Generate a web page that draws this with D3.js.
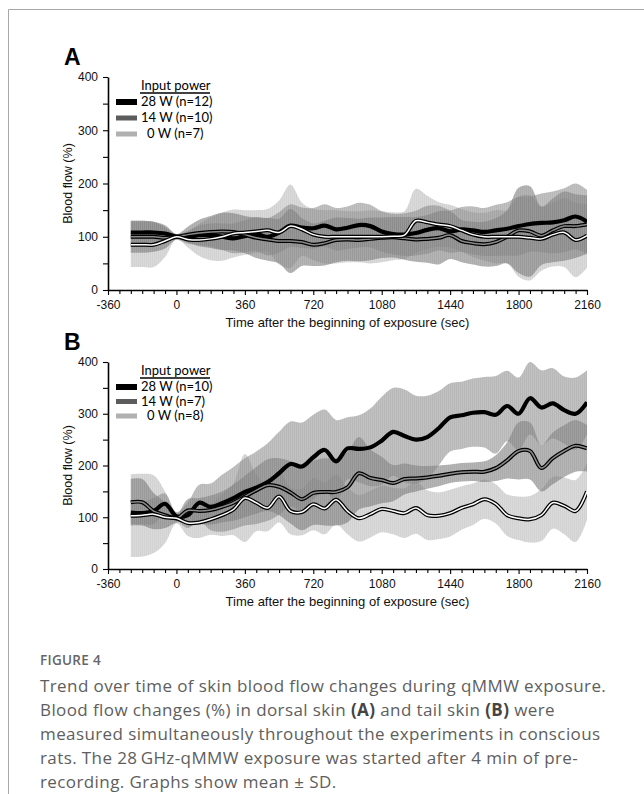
<!DOCTYPE html>
<html>
<head>
<meta charset="utf-8">
<script src="https://cdn.jsdelivr.net/npm/d3@7"></script>
<style>
  body { margin: 0; background: #fff; }
  svg { display: block; }
  text { white-space: pre; }
</style>
</head>
<body>
<svg id="fig"></svg>
<script>
// time points (sec after the beginning of exposure)
const times = [-240, -180, -120, -60, 0, 60, 120, 180, 240, 300, 360, 420, 480, 540, 600, 660,
  720, 780, 840, 900, 960, 1020, 1080, 1140, 1200, 1260, 1320, 1380, 1440, 1500, 1560, 1620,
  1680, 1740, 1800, 1860, 1920, 1980, 2040, 2100, 2160];

const xTicks = [-360, 0, 360, 720, 1080, 1440, 1800, 2160];
const yTicks = [0, 100, 200, 300, 400];
const yMinor = [50, 150, 250, 350];

const legendTitle = 'Input power';
const labelsA = ['28 W (n=12)', '14 W (n=10)', '0 W (n=7)'];
const labelsB = ['28 W (n=10)', '14 W (n=7)', '0 W (n=8)'];

// Panel A - dorsal skin
const a28Mean = [108, 108, 108, 106, 100, 99, 103, 103, 100, 97, 101, 105, 100, 108, 121, 117,
  116, 121, 114, 117, 122, 120, 110, 105, 104, 107, 113, 116, 110, 114, 112, 109,
  112, 115, 120, 124, 126, 127, 131, 138, 128];
const a14Mean = [100, 100, 100, 98, 100, 104, 107, 109, 110, 109, 104, 98, 95, 92, 92, 90,
  85, 88, 94, 95, 94, 96, 98, 99, 97, 95, 96, 98, 103, 92, 88, 86,
  90, 100, 112, 110, 102, 112, 120, 120, 123];
const a0Mean = [85, 85, 85, 92, 100, 95, 94, 96, 100, 106, 108, 110, 112, 108, 120, 114,
  104, 100, 100, 100, 100, 100, 100, 101, 103, 130, 127, 123, 120, 112, 104, 100,
  100, 100, 100, 98, 96, 104, 108, 94, 102];
const a28Sd = [22, 22, 20, 15, 5, 12, 18, 22, 25, 28, 30, 32, 35, 38, 40, 38,
  38, 40, 40, 40, 42, 40, 38, 38, 40, 42, 45, 42, 40, 42, 45, 45,
  48, 50, 55, 52, 55, 58, 60, 62, 60];
const a14Sd = [30, 30, 28, 20, 5, 15, 25, 30, 35, 35, 35, 38, 40, 42, 60, 45,
  40, 42, 42, 40, 40, 40, 38, 38, 40, 42, 45, 50, 45, 40, 40, 42,
  45, 50, 80, 85, 55, 60, 65, 60, 55];
const a0Sd = [42, 42, 42, 30, 5, 15, 30, 40, 45, 45, 42, 40, 40, 60, 78, 50,
  48, 50, 50, 48, 48, 50, 48, 45, 45, 60, 50, 42, 40, 40, 42, 45,
  50, 50, 75, 80, 60, 60, 65, 70, 60];

// Panel B - tail skin
const b28Mean = [109, 108, 112, 126, 102, 104, 128, 120, 127, 137, 149, 157, 168, 185, 203, 198,
  216, 230, 208, 233, 232, 235, 248, 265, 257, 250, 255, 272, 293, 297, 302, 303,
  298, 315, 300, 330, 312, 320, 307, 300, 322];
const b14Mean = [129, 129, 112, 104, 98, 113, 112, 114, 120, 128, 140, 152, 162, 159, 148, 135,
  147, 149, 149, 158, 185, 176, 172, 166, 174, 175, 177, 180, 184, 187, 188, 188,
  195, 210, 228, 228, 195, 214, 228, 238, 233];
const b0Mean = [103, 104, 106, 100, 98, 89, 90, 96, 104, 115, 137, 128, 118, 140, 112, 110,
  125, 117, 134, 112, 98, 106, 116, 112, 108, 118, 104, 103, 108, 118, 125, 135,
  126, 104, 98, 96, 104, 128, 122, 112, 150];
const b28Sd = [22, 22, 25, 20, 8, 25, 35, 45, 55, 60, 65, 70, 75, 80, 82, 85,
  82, 78, 80, 60, 65, 75, 85, 85, 90, 85, 80, 72, 66, 65, 66, 68,
  75, 68, 70, 70, 72, 68, 65, 70, 62];
const b14Sd = [45, 45, 35, 25, 8, 22, 25, 28, 30, 35, 40, 45, 50, 55, 60, 60,
  62, 65, 65, 68, 70, 55, 45, 35, 30, 25, 22, 20, 18, 18, 18, 20,
  25, 35, 55, 55, 45, 50, 50, 50, 45];
const b0Sd = [80, 80, 75, 50, 10, 25, 30, 30, 40, 50, 85, 55, 45, 50, 45, 45,
  50, 50, 48, 45, 45, 45, 45, 45, 48, 50, 48, 45, 45, 42, 40, 38,
  38, 40, 42, 45, 50, 50, 55, 60, 55];

const W = 644, H = 794;
const axisFont = '"Liberation Sans", Arial, sans-serif';
const legendFont = 'Lato, "Open Sans", sans-serif';

const svg = d3.select('#fig').attr('width', W).attr('height', H);

// outer frame
svg.append('path')
  .attr('d', 'M8.5,' + H + 'V9.5H' + W)
  .attr('fill', 'none')
  .attr('stroke', '#a8a8a8')
  .attr('stroke-width', 1);

const defs = svg.append('defs');

// vertical hatch patterns for SD bands
function addPattern(id, base, stripe) {
  const p = defs.append('pattern')
    .attr('id', id)
    .attr('patternUnits', 'userSpaceOnUse')
    .attr('width', 2)
    .attr('height', 10);
  p.append('rect').attr('width', 2).attr('height', 10).attr('fill', base);
  p.append('rect').attr('width', 0.8).attr('height', 10).attr('fill', stripe);
}
addPattern('pat28', '#8e8e8e', '#7a7a7a');
addPattern('pat14', '#848484', '#707070');
addPattern('pat0', '#c6c6c6', '#b6b6b6');

const bandStyle = [
  { fill: 'url(#pat28)', opacity: 0.55 },
  { fill: 'url(#pat14)', opacity: 0.6 },
  { fill: 'url(#pat0)', opacity: 0.65 },
];
const swatchStyle = [
  { fill: '#000', h: 6 },
  { fill: '#5c5c5c', h: 5 },
  { fill: '#b0b0b0', h: 5 },
];

const x = d3.scaleLinear().domain([-360, 2160]).range([108, 587]);
const xMinor = d3.range(-360, 2161, 60).filter(function (t) { return xTicks.indexOf(t) < 0; });
const plainNum = function (d) { return String(d); };

function drawPanel(cfg) {
  const y = d3.scaleLinear().domain([0, 400]).range([cfg.bottom, cfg.top]);
  const g = svg.append('g');

  defs.append('clipPath').attr('id', 'clip' + cfg.letter)
    .append('rect')
    .attr('x', x(-360)).attr('y', cfg.top)
    .attr('width', x(2160) - x(-360)).attr('height', cfg.bottom - cfg.top);

  const plot = g.append('g').attr('clip-path', 'url(#clip' + cfg.letter + ')');

  const series = cfg.means.map(function (m, i) {
    return times.map(function (t, j) {
      return { t: t, m: m[j], s: cfg.sds[i][j] };
    });
  });

  const area = d3.area()
    .x(function (d) { return x(d.t); })
    .y0(function (d) { return y(d.m - d.s); })
    .y1(function (d) { return y(d.m + d.s); })
    .curve(d3.curveCatmullRom.alpha(0.5));

  const line = d3.line()
    .x(function (d) { return x(d.t); })
    .y(function (d) { return y(d.m); })
    .curve(d3.curveCatmullRom.alpha(0.5));

  // SD bands: 0 W first, 28 W last
  [2, 1, 0].forEach(function (i) {
    plot.append('path')
      .datum(series[i])
      .attr('d', area)
      .attr('fill', bandStyle[i].fill)
      .attr('opacity', bandStyle[i].opacity);
  });

  // mean lines
  plot.append('path').datum(series[0]).attr('d', line)
    .attr('fill', 'none').attr('stroke', '#000').attr('stroke-width', 4.2);
  [1, 2].forEach(function (i) {
    plot.append('path').datum(series[i]).attr('d', line)
      .attr('fill', 'none').attr('stroke', '#000').attr('stroke-width', 4);
    plot.append('path').datum(series[i]).attr('d', line)
      .attr('fill', 'none')
      .attr('stroke', i === 1 ? '#8a8a8a' : '#fff')
      .attr('stroke-width', 1.5);
  });

  // axes
  g.append('g')
    .attr('transform', 'translate(' + x(-360) + ',0)')
    .call(d3.axisLeft(y).tickValues(yTicks).tickFormat(plainNum)
      .tickSize(5).tickSizeOuter(0).tickPadding(5));
  g.append('g')
    .attr('transform', 'translate(' + x(-360) + ',0)')
    .call(d3.axisLeft(y).tickValues(yMinor).tickSize(5).tickFormat(''))
    .select('.domain').remove();

  g.append('g')
    .attr('transform', 'translate(0,' + cfg.bottom + ')')
    .call(d3.axisBottom(x).tickValues(xTicks).tickFormat(plainNum)
      .tickSize(5).tickSizeOuter(0).tickPadding(5));
  g.append('g')
    .attr('transform', 'translate(0,' + cfg.bottom + ')')
    .call(d3.axisBottom(x).tickValues(xMinor).tickSize(4).tickFormat(''))
    .select('.domain').remove();

  g.selectAll('.domain').attr('stroke', '#000').attr('stroke-width', 1.6);
  g.selectAll('.tick line').attr('stroke', '#000').attr('stroke-width', 1.1);
  g.selectAll('.tick text')
    .attr('fill', '#111')
    .style('font-family', axisFont)
    .style('font-size', '12px');

  // axis titles
  g.append('text')
    .attr('x', (x(-360) + x(2160)) / 2)
    .attr('y', cfg.bottom + 37)
    .attr('text-anchor', 'middle')
    .style('font-family', axisFont)
    .style('font-size', '13px')
    .attr('fill', '#111')
    .text('Time after the beginning of exposure (sec)');

  g.append('text')
    .attr('transform', 'translate(71.5,' + (cfg.top + cfg.bottom) / 2 + ') rotate(-90)')
    .attr('text-anchor', 'middle')
    .style('font-family', axisFont)
    .style('font-size', '12.5px')
    .attr('fill', '#111')
    .text('Blood flow (%)');

  // panel letter
  svg.append('text')
    .attr('x', 64)
    .attr('y', cfg.top - 12)
    .style('font-family', axisFont)
    .style('font-size', '23px')
    .style('font-weight', 'bold')
    .text(cfg.letter);

  // legend
  const lg = g.append('g').style('font-family', legendFont).style('font-size', '13px');
  lg.append('text')
    .attr('x', 141)
    .attr('y', cfg.top + 13)
    .text(legendTitle);
  lg.append('line')
    .attr('x1', 140).attr('x2', 210)
    .attr('y1', cfg.top + 16).attr('y2', cfg.top + 16)
    .attr('stroke', '#000').attr('stroke-width', 1.6);

  cfg.labels.forEach(function (lab, i) {
    const base = cfg.top + 29 + i * cfg.step;
    lg.append('rect')
      .attr('x', 116)
      .attr('y', base - 4 - swatchStyle[i].h / 2)
      .attr('width', 21)
      .attr('height', swatchStyle[i].h)
      .attr('fill', swatchStyle[i].fill);
    lg.append('text')
      .attr('x', i === 2 ? 147 : 141)
      .attr('y', base)
      .text(lab);
  });
}

drawPanel({
  letter: 'A', top: 77, bottom: 290, step: 16,
  means: [a28Mean, a14Mean, a0Mean],
  sds: [a28Sd, a14Sd, a0Sd],
  labels: labelsA,
});

drawPanel({
  letter: 'B', top: 362, bottom: 569, step: 14.5,
  means: [b28Mean, b14Mean, b0Mean],
  sds: [b28Sd, b14Sd, b0Sd],
  labels: labelsB,
});

// caption
const capFont = '"Open Sans", "Noto Sans", sans-serif';
svg.append('text')
  .attr('x', 40).attr('y', 665)
  .style('font-family', capFont)
  .style('font-size', '13.5px')
  .style('font-weight', 600)
  .style('letter-spacing', '0.3px')
  .attr('fill', '#666')
  .text('FIGURE 4');

const captionLines = [
  [['Trend over time of skin blood flow changes during qMMW exposure.', false]],
  [['Blood flow changes (%) in dorsal skin ', false], ['(A)', true], [' and tail skin ', false], ['(B)', true], [' were', false]],
  [['measured simultaneously throughout the experiments in conscious', false]],
  [['rats. The 28\u2009GHz-qMMW exposure was started after 4\u00a0min of pre-', false]],
  [['recording. Graphs show mean \u00b1 SD.', false]],
];

captionLines.forEach(function (parts, i) {
  const t = svg.append('text')
    .attr('x', 40)
    .attr('y', 692 + i * 24)
    .style('font-family', capFont)
    .style('font-size', '17px')
    .style('letter-spacing', '0.4px')
    .attr('fill', '#5e5e5e');
  parts.forEach(function (p) {
    t.append('tspan')
      .style('font-weight', p[1] ? 700 : 400)
      .attr('fill', p[1] ? '#444' : '#5e5e5e')
      .text(p[0]);
  });
});
</script>
</body>
</html>
